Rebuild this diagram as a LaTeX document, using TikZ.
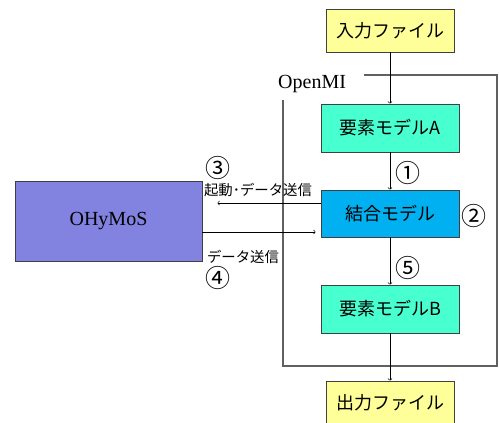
\documentclass[tikz,border=0pt]{standalone}
\usepackage{fontspec}
\setmainfont{Liberation Serif}
\newfontfamily\jp{Noto Sans CJK JP}
\usepackage{tikz}
\usetikzlibrary{positioning}
\definecolor{fileyellow}{RGB}{255,255,153}
\definecolor{modelaqua}{RGB}{72,255,208}
\definecolor{linkblue}{RGB}{0,176,240}
\definecolor{hymospurple}{RGB}{130,130,224}
\definecolor{edgegray}{RGB}{64,64,64}
\tikzset{
  % boxes
  basebox/.style  = {draw=edgegray, line width=0.8pt, inner sep=0pt,
                     font=\jp\fontsize{18}{18}\selectfont},
  filebox/.style  = {basebox, fill=fileyellow, minimum width=128pt, minimum height=43pt},
  modelbox/.style = {basebox, minimum width=138pt, minimum height=48pt},
  hymosbox/.style = {draw=edgegray, line width=0.8pt, fill=hymospurple,
                     minimum width=187pt, minimum height=80pt,
                     font=\fontsize{20}{20}\selectfont},
  % lines, arrows
  flow/.style     = {line width=0.6pt, ->},
  frame/.style    = {line width=1.2pt, gray!75!black},
  num/.style      = {inner sep=0pt, font=\jp\fontsize{25}{25}\selectfont},
  note/.style     = {inner sep=0pt, font=\jp\fontsize{14.4}{15}\selectfont},
}
\begin{document}
\begin{tikzpicture}[x=1pt, y=-1pt]
  \useasboundingbox (0,0) rectangle (499,423);
  % OpenMI frame
  \draw[frame] (364,75) -| (497,366) -| (283,100);
  \node[anchor=west, inner sep=0pt, font=\fontsize{20}{20}\selectfont] (openmi) at (278,84) {OpenMI};
  % boxes
  \node[filebox] (input) at (390,30.5) {入力ファイル};
  \node[modelbox, fill=modelaqua] (modelA) at (390,128) {要素モデルA};
  \node[modelbox, fill=linkblue, minimum height=47pt] (link) at (390,213.5) {結合モデル};
  \node[modelbox, fill=modelaqua] (modelB) at (390,309) {要素モデルB};
  \node[filebox] (output) at (390,402.5) {出力ファイル};
  \node[hymosbox] (ohymos) at (108.5,221) {OHyMoS};
  % flow
  \draw[flow] (input) -- (modelA);
  \draw[flow] (modelA) -- (link);
  \draw[flow] (link) -- (modelB);
  \draw[flow] (modelB) -- (output);
  \draw[flow] ([yshift=10.5pt]link.west) -- ([xshift=15pt,yshift=18pt]ohymos.east);
  \draw[flow] ([yshift=-11pt]ohymos.east) -- ([xshift=-5pt,yshift=-18.5pt]link.west);
  % labels
  \node[num] (n1) at (408,173) {①};
  \node[num] (n2) at (474,216) {②};
  \node[num] (n5) at (408,268) {⑤};
  \node[num] (n3) at (218,168) {③};
  \node[num] (n4) at (218,278) {④};
  \node[note] (start) at (258,190) {起動･データ送信};
  \node[note] (send) at (243,257) {データ送信};
\end{tikzpicture}
\end{document}
